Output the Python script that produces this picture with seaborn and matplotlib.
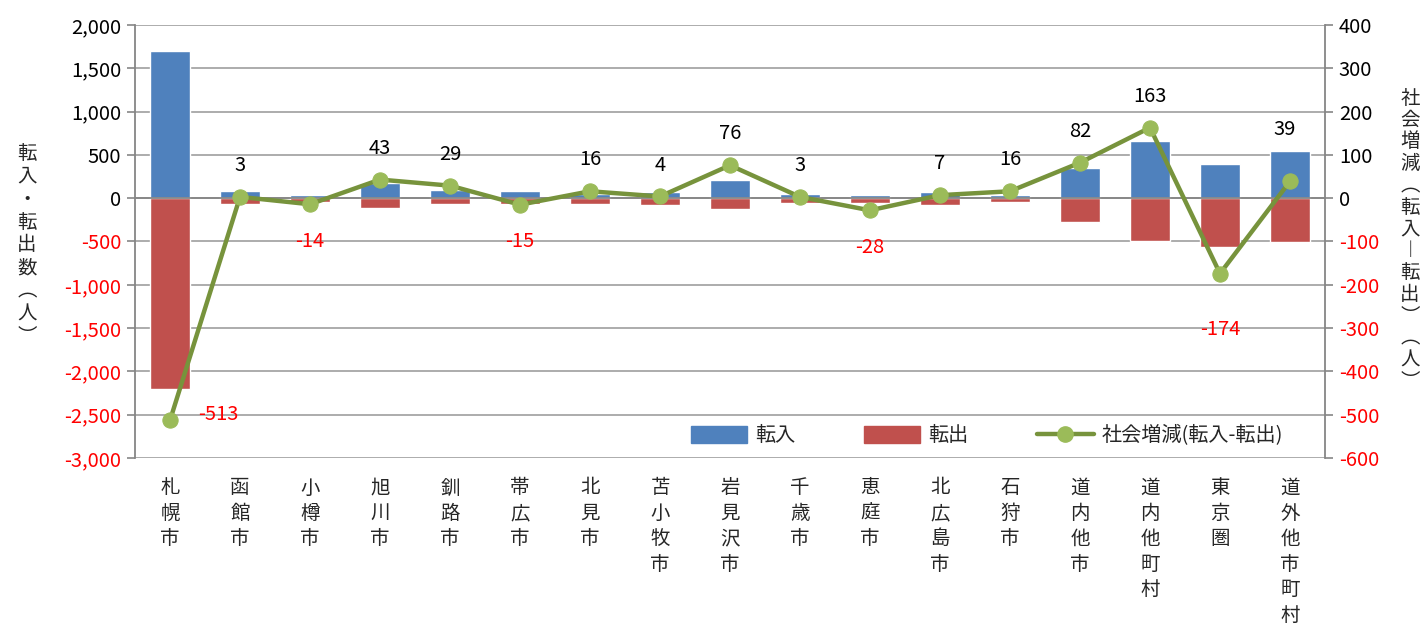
import numpy as np
import matplotlib
matplotlib.use("Agg")
import matplotlib.pyplot as plt
import matplotlib.transforms as mtransforms
from matplotlib.lines import Line2D
from matplotlib.patches import Patch
import seaborn as sns

sns.set_style("white")
plt.rcParams['font.family'] = ['Noto Sans CJK JP', 'DejaVu Sans']

# data
categories = ['札幌市', '函館市', '小樽市', '旭川市', '釧路市', '帯広市', '北見市', '苫小牧市',
              '岩見沢市', '千歳市', '恵庭市', '北広島市', '石狩市', '道内他市', '道内他町村',
              '東京圏', '道外他市町村']
tennyu = [1700, 78, 40, 178, 100, 78, 45, 70, 208, 50, 32, 72, 42, 345, 660, 400, 550]
tenshutsu = [-2200, -67, -48, -113, -67, -65, -67, -75, -123, -57, -57, -75, -46, -280, -500, -565, -505]
shakai = [-513, 3, -14, 43, 29, -15, 16, 4, 76, 3, -28, 7, 16, 82, 163, -174, 39]

BLUE = '#4F81BD'
RED = '#C0504D'
GREEN = '#77933C'
LGREEN = '#9BBB59'
GRID = '#A6A6A6'

fig = plt.figure(figsize=(14.25, 6.26), dpi=100)
ax = fig.add_axes([135 / 1425, 1 - 458 / 626, 1190 / 1425, 433 / 626])

sns.barplot(x=categories, y=tennyu, color=BLUE, width=0.56, ax=ax, saturation=1, zorder=2)
sns.barplot(x=categories, y=tenshutsu, color=RED, width=0.56, ax=ax, saturation=1, zorder=2)

ax.set_xlim(-0.5, len(categories) - 0.5)
ax.set_ylim(-3000, 2000)
ax.set_yticks(np.arange(-3000, 2001, 500))
ax.set_yticklabels([f'{v:,}' for v in np.arange(-3000, 2001, 500)], fontsize=14.5)
for lab, v in zip(ax.get_yticklabels(), np.arange(-3000, 2001, 500)):
    lab.set_color('red' if v < 0 else 'black')
ax.yaxis.grid(True, color=GRID, linewidth=1.3, zorder=0)
ax.set_axisbelow(True)
ax.tick_params(axis='y', which='major', direction='out', length=6, color='#868686', width=1.2, pad=4)

# x axis drawn at zero with ticks between categories
ax.spines['bottom'].set_position(('data', 0))
ax.spines['bottom'].set_color('#868686')
ax.spines['bottom'].set_linewidth(1.3)
ax.spines['top'].set_visible(False)
ax.spines['left'].set_color('#868686')
ax.spines['left'].set_linewidth(1.3)
ax.spines['right'].set_visible(False)
ax.set_xticks(np.arange(len(categories)))
ax.set_xticklabels([])
ax.tick_params(axis='x', which='major', length=0)
ax.set_xticks(np.arange(-0.5, len(categories), 1), minor=True)
ax.tick_params(axis='x', which='minor', direction='out', length=6, color='#868686', width=1.2)
ax.set_xlabel('')
ax.set_ylabel('')

trans = mtransforms.blended_transform_factory(ax.transData, ax.transAxes)
for i, name in enumerate(categories):
    ax.text(i, -0.045, '\n'.join(name), transform=trans, ha='center', va='top',
            fontsize=14, linespacing=1.28)

ax2 = ax.twinx()
sns.lineplot(x=np.arange(len(categories)), y=shakai, ax=ax2, color=GREEN, linewidth=3.2,
             marker='o', markersize=11, markerfacecolor=LGREEN, markeredgecolor=LGREEN, zorder=5)
ax2.set_ylim(-600, 400)
ax2.set_yticks(np.arange(-600, 401, 100))
ax2.set_yticklabels([str(v) for v in np.arange(-600, 401, 100)], fontsize=14.5)
for lab, v in zip(ax2.get_yticklabels(), np.arange(-600, 401, 100)):
    lab.set_color('red' if v < 0 else 'black')
ax2.tick_params(axis='y', direction='out', length=6, color='#868686', width=1.2, pad=4)
for s in ['top', 'bottom', 'left']:
    ax2.spines[s].set_visible(False)
ax2.spines['right'].set_color('#868686')
ax2.spines['right'].set_linewidth(1.3)
ax2.set_ylabel('')

special = {0: (20, 4, 'left', 'center'), 15: (0, -33, 'center', 'top'),
           16: (-4, 30, 'center', 'bottom')}
for i, v in enumerate(shakai):
    if i in special:
        dx, dy, ha, va = special[i]
    elif v >= 0:
        dx, dy, ha, va = 0, 15, 'center', 'bottom'
    else:
        dx, dy, ha, va = 0, -19, 'center', 'top'
    ax2.annotate(str(v), (i, v), xytext=(dx, dy), textcoords='offset points',
                 ha=ha, va=va, fontsize=14.5, color='red' if v < 0 else 'black')

fig.text(27 / 1425, 1 - 245 / 626, '\n'.join('転入・転出数︵人︶'), ha='center', va='center',
         fontsize=14, linespacing=1.12)
fig.text(1410 / 1425, 1 - 240 / 626, '\n'.join('社会増減︵転入︱転出︶︵人︶'), ha='center',
         va='center', fontsize=14, linespacing=1.05)

handles = [Patch(color=BLUE, label='転入'), Patch(color=RED, label='転出'),
           Line2D([], [], color=GREEN, linewidth=3.2, marker='o', markersize=11,
                  markerfacecolor=LGREEN, markeredgecolor=LGREEN, label='社会増減(転入-転出)')]
ax2.legend(handles=handles, loc='lower right', bbox_to_anchor=(0.98, -0.015), ncol=3,
           frameon=False, fontsize=14.5, handlelength=2.8, handleheight=0.9,
           columnspacing=3.4, handletextpad=0.4)

fig.savefig('out.png', dpi=100)
